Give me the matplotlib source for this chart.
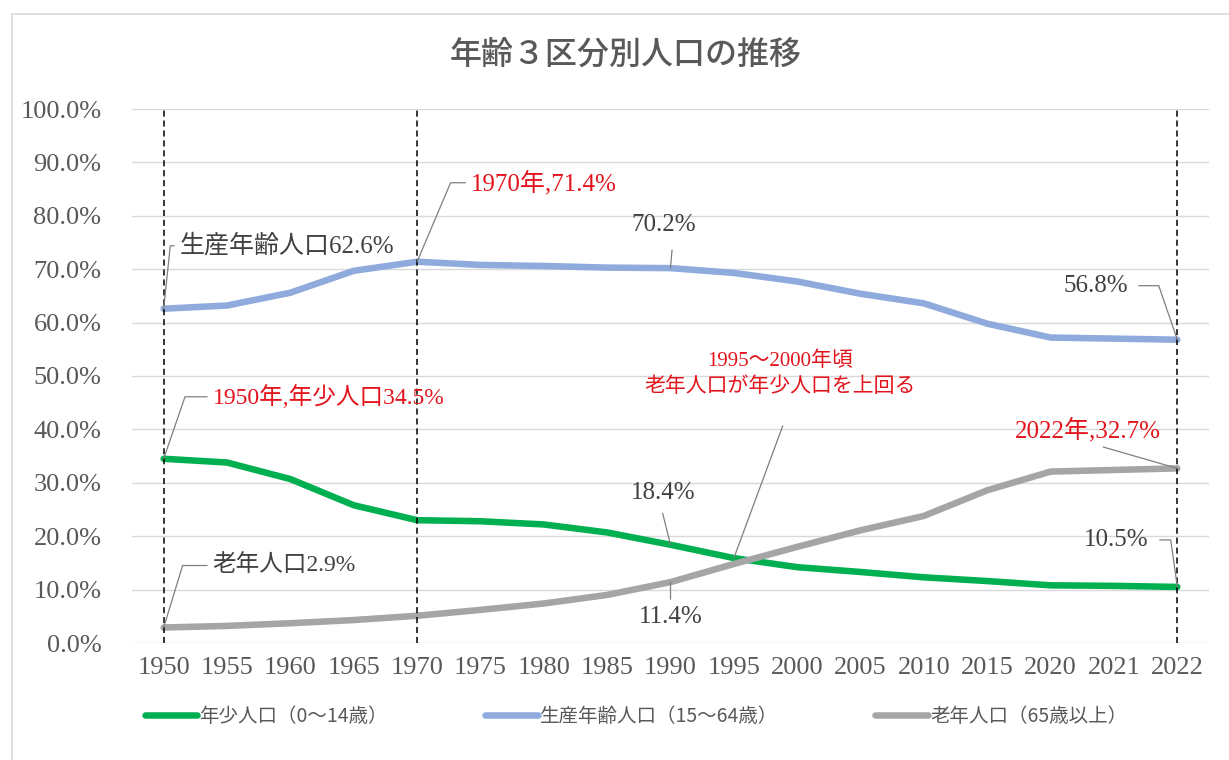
import numpy as np
import matplotlib.pyplot as plt
from matplotlib.patches import Rectangle

# データ
years = ['1950', '1955', '1960', '1965', '1970', '1975', '1980', '1985', '1990',
         '1995', '2000', '2005', '2010', '2015', '2020', '2021', '2022']
young = [34.5, 33.8, 30.7, 25.8, 23.0, 22.8, 22.2, 20.7, 18.4,
         15.9, 14.2, 13.3, 12.3, 11.6, 10.8, 10.7, 10.5]
working = [62.6, 63.2, 65.6, 69.7, 71.4, 70.8, 70.6, 70.3, 70.2,
           69.3, 67.7, 65.4, 63.6, 59.8, 57.2, 57.0, 56.8]
old = [2.9, 3.2, 3.7, 4.3, 5.1, 6.2, 7.4, 9.0, 11.4,
       14.8, 18.0, 21.1, 23.8, 28.6, 32.1, 32.4, 32.7]
series_names = ['年少人口（0～14歳）', '生産年齢人口（15～64歳）', '老年人口（65歳以上）']
colors = ['#00B050', '#8FAADC', '#A5A5A5']
marked_years = ['1950', '1970', '2022']

SERIF = ['Liberation Serif', 'Noto Sans CJK JP']
GOTHIC = ['Noto Sans CJK JP', 'DejaVu Sans']
GRAY_TXT = '#595959'
RED = '#E3141C'

fig = plt.figure(figsize=(12.29, 7.6), dpi=100)
fig.patches.append(Rectangle((12 / 1229, -0.1), 1.1, 1 - 14 / 760 + 0.1,
                             transform=fig.transFigure, fill=False,
                             edgecolor='#D9D9D9', lw=1.2))
ax = fig.add_axes([132 / 1229, 1 - 643 / 760, (1209 - 132) / 1229, (643 - 109) / 760])

x = np.arange(len(years))
lines = []
for vals, c, name in zip([young, working, old], colors, series_names):
    ln, = ax.plot(x, vals, color=c, lw=4.7, solid_capstyle='round', label=name, zorder=3)
    lines.append(ln)

for y in marked_years:
    ax.axvline(years.index(y), color='black', lw=1.1, ls=(0, (4, 2.5)), zorder=4)

ax.set_xlim(-0.5, len(years) - 0.5)
ax.set_ylim(0, 100)
ax.set_yticks(np.arange(0, 101, 10))
ax.set_yticklabels([f'{v:.1f}%' for v in np.arange(0, 101, 10)])
ax.set_xticks(x)
ax.set_xticklabels(years)
ax.tick_params(length=0, colors=GRAY_TXT, pad=10)
ax.tick_params(axis='y', pad=22)
for lab in ax.get_xticklabels() + ax.get_yticklabels():
    lab.set_family(SERIF)
    lab.set_fontsize(19)
ax.grid(axis='y', color='#D9D9D9', lw=1)
for s in ax.spines.values():
    s.set_visible(False)
ax.set_axisbelow(True)


def label(series, year, text, dx, dy, color='#404040', ha='left', fs=18,
          relpos=(0, 0.5), conn='arc3', shrinkA=2, ls=1.2):
    i = years.index(year)
    ax.annotate(text, xy=(i, series[i]), xytext=(dx, dy), textcoords='offset pixels',
                ha=ha, va='center', fontsize=fs, color=color, family=SERIF,
                linespacing=ls,
                arrowprops=dict(arrowstyle='-', color='#7F7F7F', lw=0.9,
                                relpos=relpos, connectionstyle=conn,
                                shrinkA=shrinkA, shrinkB=0),
                zorder=5)


label(working, '1950', '生産年齢人口62.6%', 16, 63, conn='angle,angleA=0,angleB=84,rad=0')
label(working, '1970', '1970年,71.4%', 54, 79, color=RED, conn='angle,angleA=0,angleB=67,rad=0')
label(working, '1990', '70.2%', -7, 43, ha='center', relpos=(0.65, 0), shrinkA=8)
label(working, '2022', '56.8%', -82, 54, ha='center', relpos=(1, 0.5),
      conn='angle,angleA=0,angleB=109,rad=0', shrinkA=6)
label(young, '1950', '1950年,年少人口34.5%', 49, 62, color=RED, fs=17,
      conn='angle,angleA=0,angleB=71,rad=0')
label(young, '1995', '1995～2000年頃\n老年人口が年少人口を上回る', 46, 184, color=RED,
      ha='center', fs=15, relpos=(0.55, 0), shrinkA=20, ls=1.45)
label(old, '2022', '2022年,32.7%', -89, 38, color=RED, ha='center', relpos=(0.5, 0), shrinkA=4)
label(young, '1990', '18.4%', -7, 52, ha='center', relpos=(0.45, 0), shrinkA=5)
label(old, '1990', '11.4%', 0, -35, ha='center', relpos=(0.5, 1), shrinkA=3)
label(old, '1950', '老年人口2.9%', 49, 62, fs=17, conn='angle,angleA=0,angleB=73,rad=0')
label(young, '2022', '10.5%', -61, 47, ha='center', relpos=(1, 0.5),
      conn='angle,angleA=0,angleB=98,rad=0', shrinkA=6)

fig.text(626 / 1229, 1 - 56 / 760, '年齢３区分別人口の推移', ha='center', va='center',
         fontsize=23, color=GRAY_TXT, family=GOTHIC, weight='medium')

leg = fig.legend(handles=lines, loc='center', bbox_to_anchor=(636 / 1229, 1 - 716 / 760),
                 ncol=3, frameon=False, handlelength=2.7, handletextpad=0.12,
                 columnspacing=5.0, prop={'family': GOTHIC, 'size': 14})
for t in leg.get_texts():
    t.set_color(GRAY_TXT)

fig.savefig('out.png', dpi=100)
